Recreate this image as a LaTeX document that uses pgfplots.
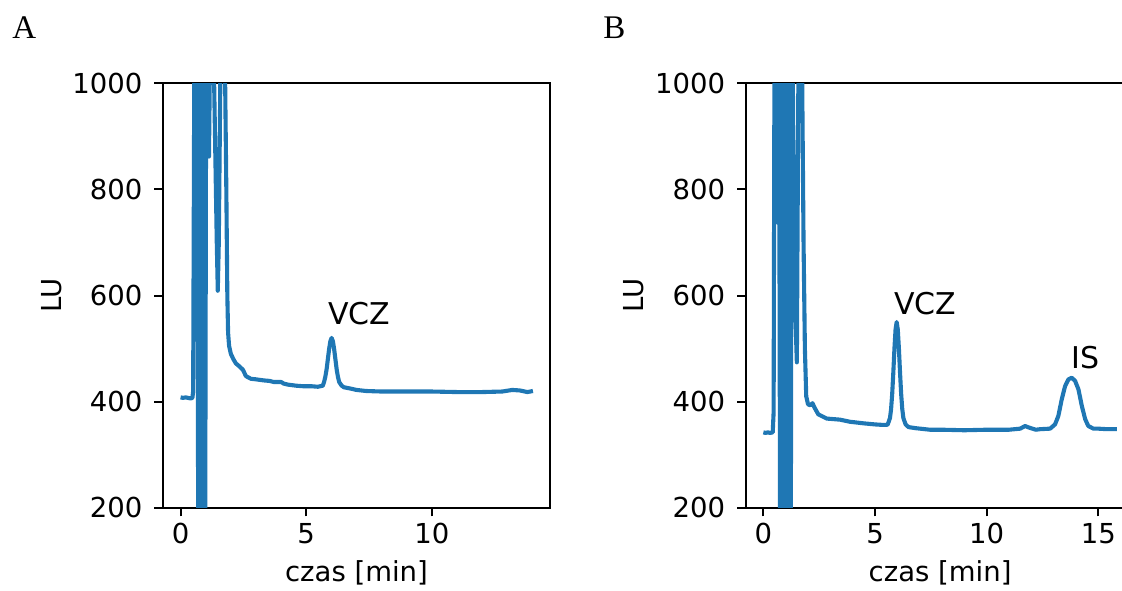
\documentclass[border=0pt]{standalone}
\usepackage{fontspec}
\setmainfont{DejaVu Sans}
\newfontfamily\seriffont{Liberation Serif}
\usepackage{pgfplots}
\pgfplotsset{compat=1.18}
\definecolor{tabblue}{RGB}{31,119,180}
\pgfplotsset{
  myax/.style={
    scale only axis, height=212.2pt,
    ymin=200, ymax=1000, ytick={200,400,600,800,1000},
    tick align=outside, xtick pos=bottom, ytick pos=left,
    major tick length=4.3pt,
    every tick/.style={black, line width=1pt},
    axis line style={line width=1pt},
    /pgf/number format/assume math mode=true,
    /pgf/number format/1000 sep={},
    ticklabel style={font=\fontsize{13.75}{16}\selectfont},
    yticklabel style={xshift=-2.5pt},
    label style={font=\fontsize{13.75}{16}\selectfont},
    xlabel={czas [min]}, ylabel={LU},
    xlabel style={at={(axis description cs:0.5,-0.175)}, anchor=base},
    ylabel style={at={(axis description cs:-0.288,0.5)}, anchor=center},
  },
  tr/.style={color=tabblue, line width=2.05pt, line join=round, mark=none},
}
\begin{document}
\begin{tikzpicture}
\useasboundingbox (0,0) rectangle (561pt,295pt);
\clip (0,0) rectangle (561pt,295pt);
\begin{axis}[myax, at={(81.5pt,41.15pt)}, anchor=south west, width=193.5pt,
  xmin=-0.7, xmax=14.7, xtick={0,5,10}]
\addplot[tr] coordinates {
(0,408)(0.1,407)(0.2,408)(0.3,407)(0.4,406)(0.47,407)(0.5,420)(0.55,1100)(0.6,1100)(0.66,1100)
(0.70,150)(0.72,1100)(0.74,150)(0.76,1100)(0.78,150)(0.80,1100)(0.82,150)(0.84,1100)(0.86,150)
(0.88,1100)(0.90,150)(0.92,1100)(0.94,150)(0.96,1100)(0.98,150)(1.02,1100)(1.08,1100)(1.13,862)
(1.18,1100)(1.3,1100)(1.44,700)(1.48,609)(1.52,700)(1.6,1100)(1.75,1100)(1.82,800)(1.86,600)
(1.89,530)(1.93,505)(2.0,490)(2.1,480)(2.2,472)(2.35,466)(2.48,460)(2.6,448)(2.8,443)(3.0,442)
(3.3,440)(3.54,439)(3.7,437)(4.0,437)(4.1,434)(4.27,432)(4.6,430)(4.87,429)(5.2,429)(5.46,428)
(5.56,429)(5.66,430)(5.71,437)(5.76,447)(5.81,461)(5.86,480)(5.91,499)(5.96,514)(6.01,520)
(6.06,514)(6.11,499)(6.16,480)(6.21,461)(6.26,447)(6.31,437)(6.41,430)(6.5,427)(6.72,425)
(7.0,422)(7.38,420)(8,419)(9,419)(10,419)(11,418)(12,418)(12.8,419)(13.2,422)(13.5,421)(13.8,418)(14.02,420)
};
\node[anchor=base west, font=\fontsize{15}{18}\selectfont, inner sep=0pt] at (axis cs:5.85,545) {VCZ};
\end{axis}
\begin{axis}[myax, at={(372.85pt,41.15pt)}, anchor=south west, width=194.4pt,
  xmin=-0.79, xmax=16.62, xtick={0,5,10,15}]
\addplot[tr] coordinates {
(0,342)(0.1,341)(0.2,342)(0.3,341)(0.42,342)(0.46,380)(0.5,1100)(0.6,1100)(0.66,737)(0.70,1100)
(0.75,150)(0.78,1100)(0.81,150)(0.84,1100)(0.87,150)(0.90,1100)(0.93,150)(0.96,1100)(0.99,150)
(1.02,1100)(1.05,150)(1.08,1100)(1.11,150)(1.14,1100)(1.17,150)(1.20,1100)(1.23,150)(1.27,1100)
(1.3,1100)(1.40,607)(1.50,474)(1.58,1100)(1.72,1100)(1.8,700)(1.86,500)(1.92,410)(2.0,395)
(2.1,393)(2.2,397)(2.3,388)(2.46,376)(2.84,368)(3.43,366)(3.88,362)(4.5,359)(5.0,357)(5.37,356)
(5.5,356)(5.57,357)(5.67,369)(5.72,386)(5.77,415)(5.82,455)(5.87,500)(5.92,536)(5.97,550)
(6.02,536)(6.07,500)(6.12,455)(6.17,415)(6.22,386)(6.27,369)(6.37,357)(6.5,352)(6.8,350)(7.46,347)
(8,347)(9,346)(10,347)(11,347)(11.5,349)(11.72,354)(11.9,351)(12.2,347)(12.39,348)(12.84,349)
(13.06,357)(13.21,373)(13.36,404)(13.51,429)(13.66,442)(13.81,445)(13.96,439)(14.11,423)
(14.26,392)(14.41,367)(14.55,354)(14.78,349)(15,349)(15.4,348)(15.83,348)
};
\node[anchor=base west, font=\fontsize{15}{18}\selectfont, inner sep=0pt] at (axis cs:5.85,564) {VCZ};
\node[anchor=base west, font=\fontsize{15}{18}\selectfont, inner sep=0pt] at (axis cs:13.78,462) {IS};
\end{axis}
\node[anchor=base west, inner sep=0pt, font=\seriffont\fontsize{16.5}{19}\selectfont] at (6pt,275.5pt) {A};
\node[anchor=base west, inner sep=0pt, font=\seriffont\fontsize{16.5}{19}\selectfont] at (301.5pt,275.5pt) {B};
\end{tikzpicture}
\end{document}
